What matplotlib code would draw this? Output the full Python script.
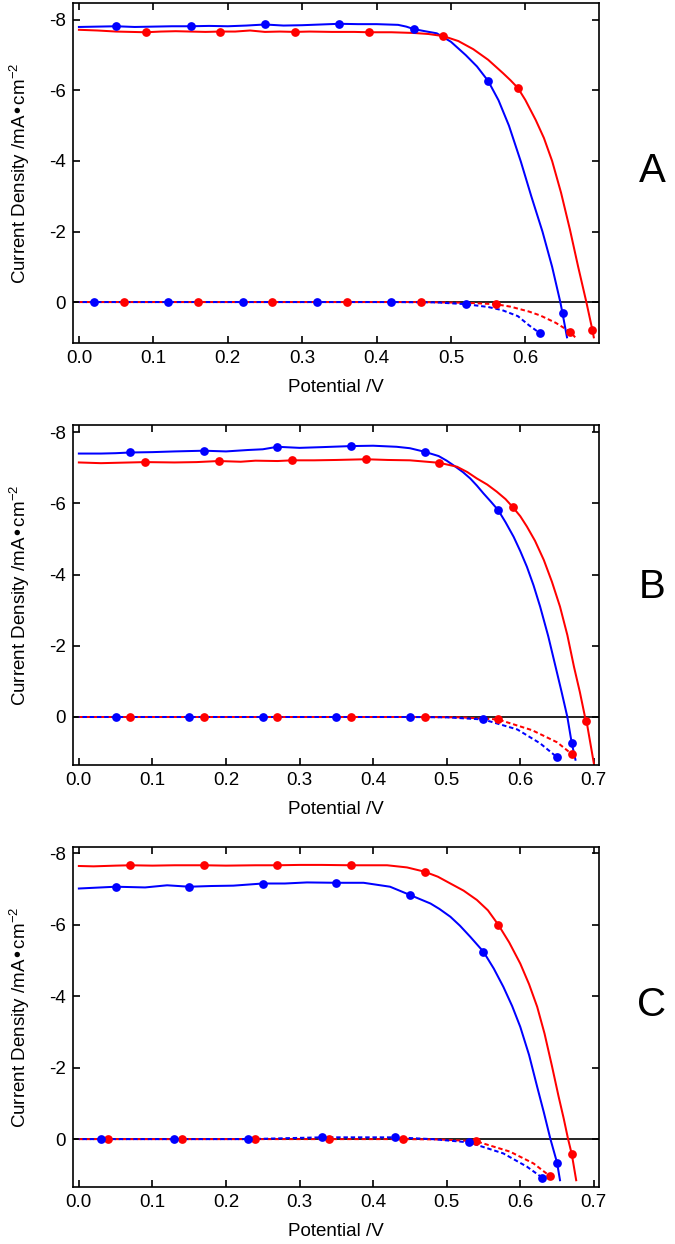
import numpy as np
import matplotlib
matplotlib.use("Agg")
from matplotlib import pyplot as plt

plt.rcParams['font.family'] = ['Liberation Sans', 'DejaVu Sans']
plt.rcParams['mathtext.default'] = 'regular'
plt.rcParams['axes.unicode_minus'] = False

###############################################################################
# Panel A #
a_light_blue_v = [0.00, 0.025, 0.05, 0.075, 0.10, 0.125, 0.15, 0.175, 0.20, 0.225, 0.25, 0.275, 0.30,
                  0.325, 0.35, 0.375, 0.40, 0.429, 0.44, 0.45, 0.465, 0.481, 0.50, 0.52, 0.535, 0.55,
                  0.564, 0.578, 0.594, 0.608, 0.623, 0.636, 0.647, 0.65, 0.656]
a_light_blue_j = [-7.80, -7.81, -7.82, -7.80, -7.81, -7.82, -7.82, -7.83, -7.82, -7.84, -7.87, -7.84, -7.85,
                  -7.87, -7.89, -7.88, -7.88, -7.86, -7.81, -7.74, -7.68, -7.62, -7.38, -7.00, -6.68, -6.27,
                  -5.72, -5.00, -3.98, -3.00, -2.00, -1.00, 0.00, 0.32, 1.00]
a_light_red_v = [0.00, 0.025, 0.05, 0.07, 0.09, 0.11, 0.13, 0.15, 0.17, 0.19, 0.21, 0.23, 0.25, 0.27, 0.29,
                 0.31, 0.34, 0.37, 0.39, 0.42, 0.45, 0.47, 0.49, 0.51, 0.53, 0.55, 0.57, 0.58, 0.59, 0.60,
                 0.614, 0.625, 0.636, 0.648, 0.66, 0.671, 0.682, 0.69, 0.692]
a_light_red_j = [-7.72, -7.70, -7.67, -7.66, -7.65, -7.67, -7.68, -7.67, -7.66, -7.67, -7.67, -7.70, -7.66,
                 -7.67, -7.66, -7.67, -7.66, -7.66, -7.65, -7.65, -7.63, -7.60, -7.54, -7.40, -7.17, -6.87,
                 -6.49, -6.29, -6.07, -5.73, -5.16, -4.65, -4.00, -3.10, -2.05, -1.00, 0.00, 0.78, 1.00]
a_dark_blue_v = [0.00, 0.02, 0.12, 0.22, 0.32, 0.42, 0.48, 0.52, 0.55, 0.569, 0.59, 0.605, 0.62]
a_dark_blue_j = [0.0, 0.0, 0.0, 0.0, 0.0, 0.0, 0.01, 0.06, 0.14, 0.23, 0.40, 0.66, 0.89]
a_dark_red_v = [0.00, 0.06, 0.16, 0.26, 0.36, 0.46, 0.52, 0.56, 0.58, 0.605, 0.62, 0.641, 0.66, 0.667]
a_dark_red_j = [0.0, 0.0, 0.0, 0.0, 0.0, 0.0, 0.02, 0.06, 0.13, 0.27, 0.38, 0.59, 0.84, 1.00]
a_marks_light_blue = [0.05, 0.15, 0.25, 0.35, 0.45, 0.55, 0.65]
a_marks_light_red = [0.09, 0.19, 0.29, 0.39, 0.49, 0.59, 0.69]
a_marks_dark_blue = [0.02, 0.12, 0.22, 0.32, 0.42, 0.52, 0.62]
a_marks_dark_red = [0.06, 0.16, 0.26, 0.36, 0.46, 0.56, 0.66]

# Panel B #
b_light_blue_v = [0.00, 0.03, 0.05, 0.07, 0.10, 0.13, 0.17, 0.20, 0.23, 0.25, 0.27, 0.30, 0.33, 0.37, 0.40,
                  0.432, 0.45, 0.47, 0.489, 0.50, 0.512, 0.522, 0.532, 0.541, 0.55, 0.56, 0.57, 0.58, 0.591,
                  0.60, 0.609, 0.618, 0.627, 0.638, 0.648, 0.656, 0.664, 0.67, 0.675]
b_light_blue_j = [-7.40, -7.40, -7.41, -7.43, -7.44, -7.46, -7.48, -7.46, -7.50, -7.52, -7.59, -7.56, -7.58,
                  -7.61, -7.62, -7.59, -7.55, -7.45, -7.33, -7.20, -7.03, -6.88, -6.70, -6.50, -6.28, -6.05,
                  -5.81, -5.47, -5.06, -4.66, -4.22, -3.70, -3.10, -2.27, -1.41, -0.72, 0.00, 0.74, 1.20]
b_light_red_v = [0.00, 0.03, 0.05, 0.09, 0.13, 0.16, 0.19, 0.22, 0.24, 0.27, 0.29, 0.32, 0.35, 0.39, 0.42,
                 0.45, 0.49, 0.514, 0.528, 0.541, 0.555, 0.568, 0.58, 0.59, 0.60, 0.609, 0.62, 0.632, 0.643,
                 0.654, 0.664, 0.673, 0.681, 0.688, 0.69, 0.70]
b_light_red_j = [-7.15, -7.13, -7.14, -7.16, -7.15, -7.16, -7.19, -7.17, -7.20, -7.19, -7.21, -7.21, -7.22,
                 -7.24, -7.22, -7.21, -7.14, -7.03, -6.88, -6.70, -6.53, -6.33, -6.12, -5.89, -5.64, -5.35,
                 -4.95, -4.41, -3.80, -3.10, -2.30, -1.41, -0.70, 0.00, 0.11, 1.30]
b_dark_blue_v = [0.00, 0.05, 0.15, 0.25, 0.35, 0.45, 0.50, 0.55, 0.596, 0.627, 0.65]
b_dark_blue_j = [0.0, 0.0, 0.0, 0.0, 0.0, 0.0, 0.01, 0.07, 0.35, 0.74, 1.13]
b_dark_red_v = [0.00, 0.07, 0.17, 0.27, 0.37, 0.47, 0.52, 0.57, 0.616, 0.65, 0.67, 0.675]
b_dark_red_j = [0.0, 0.0, 0.0, 0.0, 0.0, 0.0, 0.01, 0.07, 0.37, 0.71, 1.04, 1.16]
b_marks_light_blue = [0.07, 0.17, 0.27, 0.37, 0.47, 0.57, 0.67]
b_marks_light_red = [0.09, 0.19, 0.29, 0.39, 0.49, 0.59, 0.69]
b_marks_dark_blue = [0.05, 0.15, 0.25, 0.35, 0.45, 0.55, 0.65]
b_marks_dark_red = [0.07, 0.17, 0.27, 0.37, 0.47, 0.57, 0.67]

# Panel C #
c_light_blue_v = [0.00, 0.02, 0.05, 0.07, 0.09, 0.12, 0.15, 0.18, 0.21, 0.25, 0.28, 0.31, 0.35, 0.387,
                  0.423, 0.45, 0.478, 0.49, 0.505, 0.518, 0.532, 0.55, 0.564, 0.577, 0.589, 0.60, 0.612,
                  0.623, 0.632, 0.641, 0.65, 0.654]
c_light_blue_j = [-7.01, -7.03, -7.06, -7.05, -7.04, -7.10, -7.06, -7.08, -7.09, -7.15, -7.15, -7.18, -7.17,
                  -7.17, -7.06, -6.83, -6.59, -6.44, -6.22, -5.97, -5.66, -5.24, -4.77, -4.26, -3.72, -3.14,
                  -2.35, -1.46, -0.75, 0.00, 0.66, 1.15]
c_light_red_v = [0.00, 0.02, 0.05, 0.07, 0.10, 0.13, 0.17, 0.20, 0.24, 0.27, 0.30, 0.33, 0.37, 0.419, 0.446,
                 0.47, 0.488, 0.505, 0.523, 0.541, 0.556, 0.57, 0.585, 0.60, 0.612, 0.623, 0.633, 0.643,
                 0.652, 0.659, 0.665, 0.67, 0.676]
c_light_red_j = [-7.64, -7.63, -7.65, -7.66, -7.65, -7.66, -7.66, -7.65, -7.66, -7.66, -7.67, -7.67, -7.66,
                 -7.66, -7.60, -7.48, -7.34, -7.15, -6.95, -6.69, -6.40, -6.00, -5.50, -4.91, -4.33, -3.70,
                 -2.95, -2.05, -1.20, -0.58, 0.00, 0.42, 1.15]
c_dark_blue_v = [0.00, 0.03, 0.13, 0.23, 0.33, 0.43, 0.48, 0.53, 0.577, 0.609, 0.63]
c_dark_blue_j = [0.0, 0.0, 0.0, 0.0, -0.05, -0.05, 0.0, 0.09, 0.40, 0.77, 1.08]
c_dark_red_v = [0.00, 0.04, 0.14, 0.24, 0.34, 0.44, 0.49, 0.54, 0.586, 0.618, 0.64, 0.644]
c_dark_red_j = [0.0, 0.0, 0.0, 0.0, 0.0, 0.0, 0.01, 0.06, 0.35, 0.68, 1.03, 1.17]
c_marks_light_blue = [0.05, 0.15, 0.25, 0.35, 0.45, 0.55, 0.65]
c_marks_light_red = [0.07, 0.17, 0.27, 0.37, 0.47, 0.57, 0.67]
c_marks_dark_blue = [0.03, 0.13, 0.23, 0.33, 0.43, 0.53, 0.63]
c_marks_dark_red = [0.04, 0.14, 0.24, 0.34, 0.44, 0.54, 0.64]

x_ticks = [0.0, 0.1, 0.2, 0.3, 0.4, 0.5, 0.6, 0.7]
x_tick_labels = ['0.0', '0.1', '0.2', '0.3', '0.4', '0.5', '0.6', '0.7']
y_ticks = [-8, -6, -4, -2, 0]
y_tick_labels = ['-8', '-6', '-4', '-2', '0']

###############################################################################
RED = '#ff0000'
BLUE = '#0000ff'
DASH_RED = (0, (2.2, 1.4))
DASH_BLUE = (1.8, (2.2, 1.4))


def pick(v, j, marks):
    """Points of a curve that carry a marker"""
    v = np.asarray(v); j = np.asarray(j)
    keep = np.isin(np.round(v, 3), np.round(marks, 3))
    return v[keep], j[keep]


def panel(ax, series, xlim, ylim, n_xticks, letter, letter_y):
    ax.axhline(0, color='black', lw=1.2, zorder=1)
    for v, j, marks, color, ls in series:
        ax.plot(v, j, color=color, lw=1.45, ls=ls, zorder=2)
        mv, mj = pick(v, j, marks)
        ax.plot(mv, mj, 'o', color=color, ms=6.3, mec='none', zorder=3)
    ax.set_xlim(*xlim)
    ax.set_ylim(*ylim)
    ax.set_xticks(x_ticks[:n_xticks])
    ax.set_xticklabels(x_tick_labels[:n_xticks])
    ax.set_yticks(y_ticks)
    ax.set_yticklabels(y_tick_labels)
    ax.tick_params(direction='in', length=5, width=1.2, top=True, right=True,
                   labelsize=13.5, pad=5)
    for s in ax.spines.values():
        s.set_linewidth(1.2)
    ax.set_xlabel('Potential /V', fontsize=13.5)
    ax.set_ylabel('Current Density /mA\u2022cm$^{-2}$', fontsize=13.5)
    ax.xaxis.set_label_coords(0.5, -0.105)
    ax.yaxis.set_label_coords(-0.078, 0.5)
    fig.text(652 / 675, 1 - letter_y / 1244, letter, fontsize=29,
             ha='center', va='center')


fig = plt.figure(figsize=(6.75, 12.44), dpi=100)

axA = fig.add_axes([0.1081, 0.7243, 0.7793, 0.2733])
panel(axA, [(a_dark_red_v, a_dark_red_j, a_marks_dark_red, RED, DASH_RED),
            (a_dark_blue_v, a_dark_blue_j, a_marks_dark_blue, BLUE, DASH_BLUE),
            (a_light_blue_v, a_light_blue_j, a_marks_light_blue, BLUE, '-'),
            (a_light_red_v, a_light_red_j, a_marks_light_red, RED, '-')],
      (-0.008, 0.699), (1.16, -8.48), 7, 'A', 171)

axB = fig.add_axes([0.1081, 0.3850, 0.7793, 0.2733])
panel(axB, [(b_dark_red_v, b_dark_red_j, b_marks_dark_red, RED, DASH_RED),
            (b_dark_blue_v, b_dark_blue_j, b_marks_dark_blue, BLUE, DASH_BLUE),
            (b_light_blue_v, b_light_blue_j, b_marks_light_blue, BLUE, '-'),
            (b_light_red_v, b_light_red_j, b_marks_light_red, RED, '-')],
      (-0.008, 0.707), (1.35, -8.2), 8, 'B', 587)

axC = fig.add_axes([0.1081, 0.0458, 0.7793, 0.2733])
panel(axC, [(c_dark_red_v, c_dark_red_j, c_marks_dark_red, RED, DASH_RED),
            (c_dark_blue_v, c_dark_blue_j, c_marks_dark_blue, BLUE, DASH_BLUE),
            (c_light_blue_v, c_light_blue_j, c_marks_light_blue, BLUE, '-'),
            (c_light_red_v, c_light_red_j, c_marks_light_red, RED, '-')],
      (-0.008, 0.707), (1.34, -8.17), 8, 'C', 1005)

fig.savefig('out.png', dpi=100)
